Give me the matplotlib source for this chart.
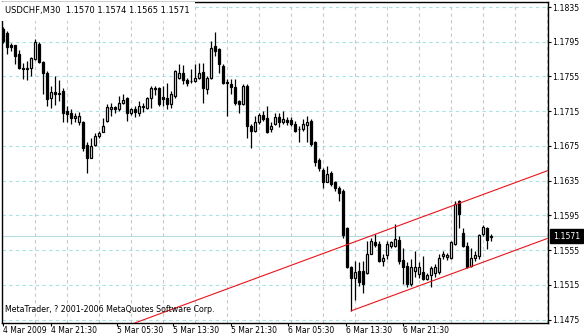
import matplotlib.pyplot as plt
import matplotlib.transforms as mtransforms
import numpy as np

# USDCHF M30 bars (open, high, low, close)
opens = [1.1810, 1.1805, 1.1791, 1.1791, 1.1781, 1.1765, 1.1764, 1.1765, 1.1775, 1.1792,
         1.1772, 1.1759, 1.1730, 1.1737, 1.1735, 1.1738, 1.1715, 1.1713, 1.1707, 1.1703,
         1.1702, 1.1676, 1.1661, 1.1676, 1.1687, 1.1691, 1.1704, 1.1718, 1.1720, 1.1717,
         1.1725, 1.1730, 1.1713, 1.1718, 1.1713, 1.1720, 1.1719, 1.1730, 1.1741, 1.1742,
         1.1731, 1.1730, 1.1723, 1.1733, 1.1753, 1.1759, 1.1751, 1.1750, 1.1750, 1.1753,
         1.1760, 1.1741, 1.1753, 1.1790, 1.1787, 1.1767, 1.1749, 1.1746, 1.1743, 1.1727,
         1.1723, 1.1744, 1.1698, 1.1692, 1.1702, 1.1711, 1.1707, 1.1695, 1.1700, 1.1708,
         1.1703, 1.1705, 1.1705, 1.1700, 1.1694, 1.1695, 1.1699, 1.1704, 1.1680, 1.1659,
         1.1647, 1.1634, 1.1644, 1.1633, 1.1627, 1.1623, 1.1580, 1.1535, 1.1523, 1.1531,
         1.1531, 1.1529, 1.1551, 1.1564, 1.1562, 1.1542, 1.1549, 1.1560, 1.1560, 1.1567,
         1.1544, 1.1537, 1.1516, 1.1531, 1.1528, 1.1530, 1.1522, 1.1526, 1.1529, 1.1530,
         1.1548, 1.1547, 1.1546, 1.1562, 1.1612, 1.1575, 1.1560, 1.1537, 1.1546, 1.1548,
         1.1573, 1.1581, 1.1570]
highs = [1.1812, 1.1807, 1.1794, 1.1791, 1.1786, 1.1771, 1.1773, 1.1777, 1.1798, 1.1795,
         1.1773, 1.1761, 1.1744, 1.1756, 1.1751, 1.1742, 1.1721, 1.1718, 1.1713, 1.1714,
         1.1704, 1.1679, 1.1684, 1.1690, 1.1692, 1.1707, 1.1723, 1.1725, 1.1721, 1.1733,
         1.1735, 1.1731, 1.1719, 1.1721, 1.1727, 1.1725, 1.1731, 1.1744, 1.1744, 1.1743,
         1.1744, 1.1748, 1.1738, 1.1763, 1.1769, 1.1768, 1.1753, 1.1764, 1.1769, 1.1771,
         1.1771, 1.1756, 1.1796, 1.1806, 1.1788, 1.1769, 1.1752, 1.1752, 1.1752, 1.1728,
         1.1746, 1.1746, 1.1700, 1.1709, 1.1713, 1.1715, 1.1721, 1.1702, 1.1713, 1.1713,
         1.1715, 1.1708, 1.1708, 1.1704, 1.1698, 1.1706, 1.1709, 1.1706, 1.1681, 1.1661,
         1.1650, 1.1652, 1.1646, 1.1635, 1.1629, 1.1625, 1.1582, 1.1537, 1.1542, 1.1541,
         1.1542, 1.1566, 1.1569, 1.1574, 1.1565, 1.1550, 1.1566, 1.1566, 1.1585, 1.1571,
         1.1557, 1.1541, 1.1545, 1.1554, 1.1541, 1.1548, 1.1529, 1.1537, 1.1539, 1.1551,
         1.1554, 1.1552, 1.1566, 1.1612, 1.1613, 1.1580, 1.1564, 1.1557, 1.1554, 1.1574,
         1.1584, 1.1582, 1.1574]
lows = [1.1794, 1.1781, 1.1784, 1.1769, 1.1764, 1.1752, 1.1751, 1.1756, 1.1774, 1.1771,
        1.1735, 1.1721, 1.1719, 1.1722, 1.1727, 1.1702, 1.1702, 1.1700, 1.1702, 1.1699,
        1.1669, 1.1644, 1.1661, 1.1675, 1.1684, 1.1691, 1.1702, 1.1709, 1.1713, 1.1715,
        1.1723, 1.1704, 1.1711, 1.1708, 1.1709, 1.1714, 1.1718, 1.1719, 1.1734, 1.1721,
        1.1721, 1.1717, 1.1719, 1.1730, 1.1752, 1.1746, 1.1744, 1.1748, 1.1749, 1.1752,
        1.1725, 1.1735, 1.1752, 1.1779, 1.1759, 1.1746, 1.1709, 1.1735, 1.1722, 1.1713,
        1.1722, 1.1684, 1.1673, 1.1691, 1.1700, 1.1704, 1.1690, 1.1691, 1.1699, 1.1697,
        1.1700, 1.1699, 1.1698, 1.1691, 1.1680, 1.1692, 1.1679, 1.1675, 1.1652, 1.1646,
        1.1626, 1.1633, 1.1629, 1.1623, 1.1612, 1.1569, 1.1534, 1.1485, 1.1497, 1.1514,
        1.1505, 1.1528, 1.1550, 1.1559, 1.1541, 1.1537, 1.1545, 1.1557, 1.1559, 1.1539,
        1.1516, 1.1512, 1.1514, 1.1524, 1.1523, 1.1520, 1.1520, 1.1512, 1.1524, 1.1527,
        1.1545, 1.1544, 1.1545, 1.1561, 1.1580, 1.1558, 1.1534, 1.1535, 1.1543, 1.1545,
        1.1571, 1.1556, 1.1565]
closes = [1.1796, 1.1789, 1.1789, 1.1779, 1.1765, 1.1764, 1.1765, 1.1776, 1.1795, 1.1772,
          1.1759, 1.1729, 1.1737, 1.1735, 1.1736, 1.1713, 1.1712, 1.1707, 1.1709, 1.1709,
          1.1673, 1.1661, 1.1675, 1.1687, 1.1690, 1.1698, 1.1720, 1.1720, 1.1717, 1.1725,
          1.1728, 1.1713, 1.1717, 1.1714, 1.1721, 1.1721, 1.1730, 1.1742, 1.1741, 1.1723,
          1.1729, 1.1723, 1.1735, 1.1761, 1.1759, 1.1751, 1.1748, 1.1750, 1.1753, 1.1759,
          1.1742, 1.1753, 1.1788, 1.1784, 1.1769, 1.1748, 1.1748, 1.1743, 1.1725, 1.1723,
          1.1744, 1.1698, 1.1692, 1.1702, 1.1711, 1.1706, 1.1691, 1.1698, 1.1708, 1.1702,
          1.1706, 1.1702, 1.1700, 1.1692, 1.1695, 1.1700, 1.1703, 1.1677, 1.1656, 1.1650,
          1.1634, 1.1643, 1.1631, 1.1626, 1.1621, 1.1572, 1.1535, 1.1523, 1.1530, 1.1518,
          1.1516, 1.1551, 1.1566, 1.1561, 1.1543, 1.1546, 1.1562, 1.1564, 1.1568, 1.1542,
          1.1535, 1.1516, 1.1536, 1.1535, 1.1536, 1.1522, 1.1526, 1.1534, 1.1535, 1.1546,
          1.1550, 1.1549, 1.1564, 1.1608, 1.1597, 1.1560, 1.1536, 1.1546, 1.1549, 1.1572,
          1.1582, 1.1567, 1.1571]

# time axis labels and the bars they sit on
time_labels = ['4 Mar 2009', '4 Mar 21:30', '5 Mar 05:30', '5 Mar 13:30',
               '5 Mar 21:30', '6 Mar 05:30', '6 Mar 13:30', '6 Mar 21:30']
label_bars = [0, 12, 28.4, 42.5, 56.9, 71.2, 85.6, 100]

price_ticks = [1.1475, 1.1515, 1.1555, 1.1595, 1.1635, 1.1675, 1.1715, 1.1755, 1.1795, 1.1835]

# channel anchors (bar, price)
channel_bars = [87, 122]
channel_low = [1.1485, 1.15445]
channel_high = [1.1563, 1.1622]

header = 'USDCHF,M30  1.1570 1.1574 1.1565 1.1571'
footer = 'MetaTrader, ? 2001-2006 MetaQuotes Software Corp.'
last_price = 1.1571

W, H = 584, 336
fig = plt.figure(figsize=(W / 100, H / 100), dpi=100)
ax = fig.add_axes([2 / W, 13 / H, 546 / W, 321 / H])
ax.set_xlim(-0.325, 136.2)
ax.set_ylim(1.1471, 1.18408)

# grid
for p in price_ticks:
    ax.axhline(p, color='#a6e3e3', lw=0.8, ls=(0, (3, 3)), zorder=1)
for b in range(8, 140, 8):
    ax.axvline(b, color='#c8c8c8', lw=0.8, ls=(0, (3, 3)), zorder=1)

# bid line
ax.axhline(last_price, color='#b6dcdc', lw=0.8, zorder=1)

# candles
x = np.arange(len(opens))
o = np.array(opens)
h = np.array(highs)
l = np.array(lows)
c = np.array(closes)
up = c >= o
body = np.maximum(np.abs(c - o), 0.00002)
ax.vlines(x, l, h, color='black', lw=0.9, zorder=3)
ax.bar(x[up], body[up], bottom=o[up], width=0.5, facecolor='white',
       edgecolor='black', lw=0.9, zorder=4)
ax.bar(x[~up], body[~up], bottom=c[~up], width=0.5, facecolor='black',
       edgecolor='black', lw=0.9, zorder=4)

# channel lines
slope = (channel_low[1] - channel_low[0]) / (channel_bars[1] - channel_bars[0])
xl = np.array([channel_bars[0], 140])
ax.plot(xl, channel_low[0] + slope * (xl - channel_bars[0]), color='#e8141c', lw=0.8, zorder=5)
xu = np.array([-10, 140])
ax.plot(xu, channel_high[0] + slope * (xu - channel_bars[0]), color='#e8141c', lw=0.8, zorder=5)

# axes
for s in ax.spines.values():
    s.set_color('black')
    s.set_linewidth(1)
ax.yaxis.tick_right()
ax.set_yticks(price_ticks)
ax.set_yticklabels(['%.4f' % p for p in price_ticks])
ax.set_xticks(label_bars)
ax.set_xticklabels(time_labels)
for t in ax.get_xticklabels():
    t.set_ha('left')
ax.tick_params(axis='y', length=2, width=0.8, pad=1, labelsize=5.6)
ax.tick_params(axis='x', length=2, width=0.8, pad=0.3, labelsize=5.5)

# current price box
tr = mtransforms.blended_transform_factory(ax.transAxes, ax.transData)
ax.text(1.0085, last_price, '1.1571', transform=tr, ha='left', va='center',
        fontsize=5.6, color='white', clip_on=False, zorder=6,
        bbox=dict(boxstyle='square,pad=0.35', fc='black', ec='black'))

fig.text(5 / W, 1 - 11 / H, header, fontsize=6, ha='left', va='center',
         bbox=dict(boxstyle='square,pad=0.6', fc='white', ec='none'))
fig.text(5 / W, 1 - 310 / H, footer, fontsize=5.7, ha='left', va='center')

fig.savefig('out.png', dpi=100)
